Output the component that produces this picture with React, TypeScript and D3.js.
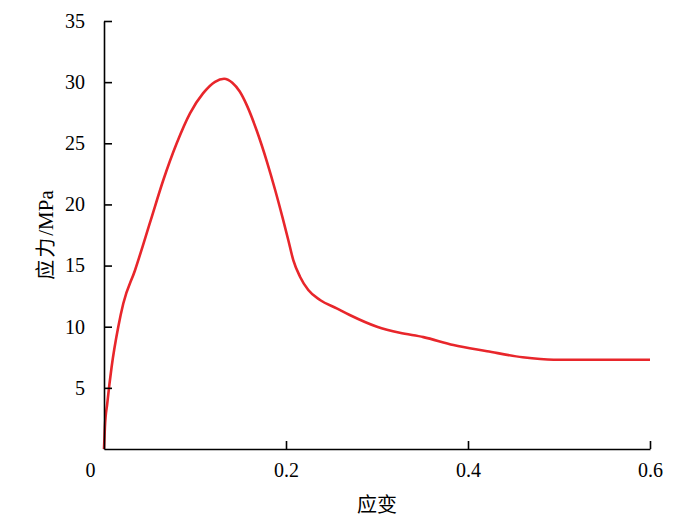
import React, { useEffect, useRef } from "react";
import * as d3 from "d3";

// strain-stress curve
const strain = [0, 0.001, 0.0036, 0.0084, 0.0157, 0.0212, 0.034, 0.0513, 0.0652, 0.0799, 0.0945, 0.109, 0.122, 0.132, 0.141, 0.149, 0.157, 0.168, 0.179, 0.188, 0.1963, 0.2025, 0.208, 0.2154, 0.2245, 0.2374, 0.2557, 0.27, 0.3, 0.325, 0.351, 0.384, 0.421, 0.46, 0.494, 0.55, 0.6];
const stress = [0, 1.8, 3.74, 6.73, 10.0, 11.9, 14.6, 18.7, 22.0, 25.0, 27.45, 29.1, 30.03, 30.28, 29.95, 29.25, 28.1, 26.0, 23.5, 21.2, 18.9, 17.09, 15.45, 14.09, 13.0, 12.18, 11.5, 10.96, 10.0, 9.5, 9.15, 8.5, 8.0, 7.5, 7.3, 7.3, 7.3];
const xTicks = [0, 0.2, 0.4, 0.6];
const yTicks = [5, 10, 15, 20, 25, 30, 35];
const xLabel = "应变";
const yLabelCn = "应力";
const yLabelUnit = "/MPa";

const App = () => {
  const svgRef = useRef<SVGSVGElement>(null);

  useEffect(() => {
    const width = 700;
    const height = 518;
    const margin = { top: 21, right: 50, bottom: 69, left: 104 };
    const serif = "'Liberation Serif', 'DejaVu Serif', serif";
    const cjk = "'Noto Sans CJK SC', sans-serif";

    const xScale = d3.scaleLinear().domain([0, 0.6]).range([margin.left, width - margin.right]);
    const yScale = d3.scaleLinear().domain([0, 35]).range([height - margin.bottom, margin.top]);

    const svg = d3.select(svgRef.current);
    svg.selectAll("*").remove();
    svg.attr("width", width).attr("height", height);

    svg.append("rect").attr("width", width).attr("height", height).attr("fill", "#fff");

    // curve
    const pts = strain.map((s, i) => [s, stress[i]] as [number, number]);
    const line = d3
      .line<[number, number]>()
      .x((d) => xScale(d[0]))
      .y((d) => yScale(d[1]))
      .curve(d3.curveMonotoneX);
    svg
      .append("path")
      .attr("d", line(pts))
      .attr("fill", "none")
      .attr("stroke", "#e8262b")
      .attr("stroke-width", 2.6);

    // x axis
    const xAxis = d3
      .axisBottom(xScale)
      .tickValues(xTicks)
      .tickSizeInner(-8)
      .tickSizeOuter(0)
      .tickPadding(14)
      .tickFormat((d) => (d === 0 ? "0" : d3.format(".1f")(d as number)));
    const gx = svg.append("g").attr("transform", `translate(0,${yScale(0)})`).call(xAxis);
    gx.attr("font-family", serif);
    gx.select(".domain").attr("stroke", "#000").attr("stroke-width", 1.6);
    gx.selectAll(".tick line").attr("stroke", "#000").attr("stroke-width", 1.6);
    gx.selectAll(".tick text").attr("font-family", serif).attr("font-size", 20).attr("fill", "#000");
    gx.selectAll(".tick").filter((d) => d === 0).select("text").attr("dx", -14);
    gx.selectAll(".tick").filter((d) => d === 0).select("line").remove();

    // y axis
    const yAxis = d3.axisLeft(yScale).tickValues(yTicks).tickSizeInner(-8).tickSizeOuter(0).tickPadding(19);
    const gy = svg.append("g").attr("transform", `translate(${xScale(0)},0)`).call(yAxis);
    gy.attr("font-family", serif);
    gy.select(".domain").attr("stroke", "#000").attr("stroke-width", 1.6);
    gy.selectAll(".tick line").attr("stroke", "#000").attr("stroke-width", 1.6);
    gy.selectAll(".tick text").attr("font-family", serif).attr("font-size", 20).attr("fill", "#000");

    // labels
    svg
      .append("text")
      .attr("x", (xScale(0) + xScale(0.6)) / 2)
      .attr("y", 512)
      .attr("text-anchor", "middle")
      .attr("font-family", cjk)
      .attr("font-size", 20)
      .text(xLabel);

    const yl = svg
      .append("text")
      .attr("transform", `translate(53,${(yScale(0) + yScale(35)) / 2}) rotate(-90)`)
      .attr("text-anchor", "middle")
      .attr("font-size", 20);
    yl.append("tspan").attr("font-family", cjk).attr("letter-spacing", 2).text(yLabelCn);
    yl.append("tspan").attr("font-family", serif).attr("font-size", 21).text(yLabelUnit);
  }, []);

  return (
    <div style={{ position: "absolute", left: 0, top: 0 }}>
      <svg ref={svgRef}></svg>
    </div>
  );
};

export default App;
